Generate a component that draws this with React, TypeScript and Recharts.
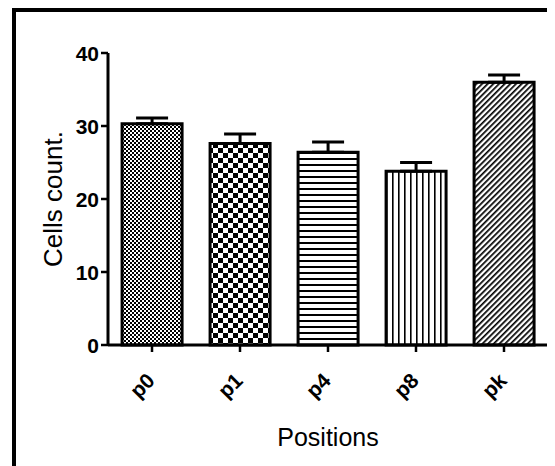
import React from "react";
import {
  BarChart,
  Bar,
  XAxis,
  YAxis,
  ErrorBar,
  Cell,
  Label,
} from "recharts";

// valores
const positions = ["p0", "p1", "p4", "p8", "pk"];
const cellMeans = [30.3, 27.6, 26.4, 23.8, 36.0];
const cellErrors = [0.8, 1.3, 1.4, 1.2, 1.0];
const yTicks = [0, 10, 20, 30, 40];
const patternIds = ["pat-p0", "pat-p1", "pat-p4", "pat-p8", "pat-pk"];

const data = positions.map((name, i) => ({
  name,
  count: cellMeans[i],
  err: [0, cellErrors[i]],
}));

const FONT = '"Liberation Sans", Arial, sans-serif';

const XTick = (props: any) => {
  const { x, y, payload } = props;
  return (
    <g transform={`translate(${x + 4},${y + 28})`}>
      <text
        x={0}
        y={0}
        textAnchor="end"
        transform="rotate(-45)"
        fontFamily={FONT}
        fontWeight="bold"
        fontSize={21}
        fill="#000"
      >
        {payload.value}
      </text>
    </g>
  );
};

const YTick = (props: any) => {
  const { x, y, payload } = props;
  return (
    <text
      x={x}
      y={y}
      textAnchor="end"
      dominantBaseline="central"
      fontFamily={FONT}
      fontWeight="bold"
      fontSize={21}
      fill="#000"
    >
      {payload.value}
    </text>
  );
};

const YLabel = (props: any) => {
  const { viewBox } = props;
  const cx = viewBox.x + 45;
  const cy = viewBox.y + viewBox.height / 2;
  return (
    <text
      x={cx}
      y={cy}
      textAnchor="middle"
      dominantBaseline="central"
      transform={`rotate(-90 ${cx} ${cy})`}
      fontFamily={FONT}
      fontSize={26}
      fill="#000"
    >
      Cells count.
    </text>
  );
};

const App: React.FC = (): JSX.Element => {
  return (
    <div
      style={{
        position: "relative",
        width: 547,
        height: 458,
        overflow: "hidden",
        background: "#fff",
      }}
    >
      {/* Marco */}
      <div
        style={{
          position: "absolute",
          left: 4,
          top: 0,
          width: 700,
          height: 700,
          border: "4px solid #000",
          boxSizing: "border-box",
        }}
      />
      <div style={{ position: "absolute", left: 0, top: 0 }}>
        <BarChart
          width={547}
          height={458}
          data={data}
          margin={{ top: 45, right: 7, left: 0, bottom: 0 }}
          barCategoryGap="16%"
        >
          <defs>
            <pattern id="pat-p0" width={4} height={4} patternUnits="userSpaceOnUse">
              <rect width={4} height={4} fill="#fff" />
              <rect x={0} y={0} width={2} height={2} fill="#000" />
              <rect x={2} y={2} width={2} height={2} fill="#000" />
            </pattern>
            <pattern id="pat-p1" width={10} height={10} patternUnits="userSpaceOnUse">
              <rect width={10} height={10} fill="#fff" />
              <rect x={0} y={0} width={5} height={5} fill="#000" />
              <rect x={5} y={5} width={5} height={5} fill="#000" />
            </pattern>
            <pattern id="pat-p4" width={6} height={6} patternUnits="userSpaceOnUse">
              <rect width={6} height={6} fill="#fff" />
              <rect x={0} y={0} width={6} height={2} fill="#000" />
            </pattern>
            <pattern id="pat-p8" width={6} height={6} patternUnits="userSpaceOnUse">
              <rect width={6} height={6} fill="#fff" />
              <rect x={0} y={0} width={1.6} height={6} fill="#000" />
            </pattern>
            <pattern
              id="pat-pk"
              width={4}
              height={4}
              patternUnits="userSpaceOnUse"
              patternTransform="rotate(45)"
            >
              <rect width={4} height={4} fill="#fff" />
              <rect x={0} y={0} width={1.7} height={4} fill="#000" />
            </pattern>
          </defs>
          <XAxis
            dataKey="name"
            height={121}
            axisLine={{ stroke: "#000", strokeWidth: 3 }}
            tickLine={{ stroke: "#000", strokeWidth: 2.5 }}
            tickSize={7}
            interval={0}
            tick={<XTick />}
          >
            <Label
              value="Positions"
              position="insideBottom"
              offset={20}
              style={{ fontFamily: FONT, fontSize: 25, fill: "#000" }}
            />
          </XAxis>
          <YAxis
            width={100}
            domain={[0, 40]}
            ticks={yTicks}
            interval={0}
            axisLine={{ stroke: "#000", strokeWidth: 3 }}
            tickLine={{ stroke: "#000", strokeWidth: 2.5 }}
            tickSize={7}
            tick={<YTick />}
            label={<YLabel />}
          />
          {/* Barras */}
          <Bar
            dataKey="count"
            stroke="#000"
            strokeWidth={3}
            isAnimationActive={false}
          >
            {data.map((_, index) => (
              <Cell key={`cell-${index}`} fill={`url(#${patternIds[index]})`} />
            ))}
            <ErrorBar
              dataKey="err"
              width={16}
              stroke="#000"
              strokeWidth={3}
              direction="y"
            />
          </Bar>
        </BarChart>
      </div>
    </div>
  );
};

export default App;
